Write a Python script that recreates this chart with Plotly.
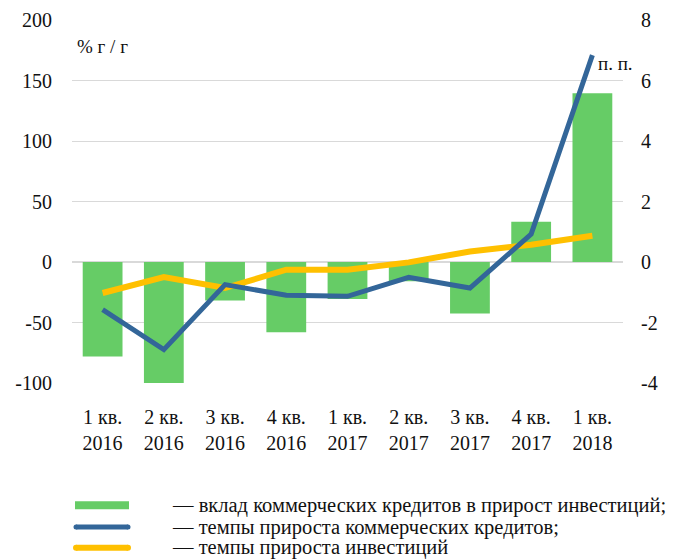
import plotly.graph_objects as go

categories = ["1 кв.<br>2016", "2 кв.<br>2016", "3 кв.<br>2016", "4 кв.<br>2016",
              "1 кв.<br>2017", "2 кв.<br>2017", "3 кв.<br>2017", "4 кв.<br>2017",
              "1 кв.<br>2018"]
contribution_pp = [-3.12, -4.07, -1.27, -2.32, -1.22, -0.64, -1.70, 1.33, 5.58]
credit_growth = [-39.4, -72.4, -18.7, -27.5, -28.4, -12.7, -21.5, 23.0, 171.0]
invest_growth = [-25.6, -12.4, -21.5, -6.4, -6.4, -0.3, 8.7, 14.3, 21.7]

left_ticks = [-100, -50, 0, 50, 100, 150, 200]
left_tick_text = ["-100", "-50", "0", "50", "100", "150", "200"]
right_ticks = [-4, -2, 0, 2, 4, 6, 8]
right_tick_text = ["-4", "-2", "0", "2", "4", "6", "8"]

legend_labels = ["— вклад коммерческих кредитов в прирост инвестиций;",
                 "— темпы прироста коммерческих кредитов;",
                 "— темпы прироста инвестиций"]

GREEN = "#66CC66"
BLUE = "#336699"
YELLOW = "#FFC000"
FONT = "Liberation Serif"

OFF = 8  # page body margin
W, H = 687 - OFF, 559 - OFF
# plot area in screen pixels: x 72..623, y 20..383.5
L = 72 - OFF
R = W - (623 - OFF)
T = 20 - OFF
B = H - (383.5 - OFF)
PW, PH = W - L - R, H - T - B


def px_x(x):
    return (x - OFF - L) / PW


def px_y(y):
    return (H - B - (y - OFF)) / PH


fig = go.Figure()
fig.add_trace(go.Bar(x=categories, y=contribution_pp, marker_color=GREEN,
                     marker_line_width=0, width=0.65, yaxis="y",
                     name=legend_labels[0], showlegend=False))
fig.add_trace(go.Scatter(x=categories, y=invest_growth, mode="lines",
                         line=dict(color=YELLOW, width=6), yaxis="y2",
                         name=legend_labels[2], showlegend=False))
fig.add_trace(go.Scatter(x=categories, y=credit_growth, mode="lines",
                         line=dict(color=BLUE, width=5), yaxis="y2",
                         name=legend_labels[1], showlegend=False))

TICKSIZE = 20
fig.update_layout(
    width=W, height=H,
    margin=dict(l=L, r=R, t=T, b=B, pad=0, autoexpand=False),
    paper_bgcolor="white", plot_bgcolor="white",
    font=dict(family=FONT, size=TICKSIZE, color="#111111"),
    xaxis=dict(range=[-0.5, 8.5], showgrid=False, showline=False, ticks="",
               automargin=False,
               tickfont=dict(size=TICKSIZE), ticklabelstandoff=20),
    yaxis=dict(side="right", range=[-4, 8], tickvals=right_ticks,
               ticktext=right_tick_text, automargin=False,
               showgrid=True, gridcolor="#d9d9d9", gridwidth=1,
               zeroline=True, zerolinecolor="#d9d9d9", zerolinewidth=1.5,
               showline=False, ticks="", ticklabelstandoff=17,
               tickfont=dict(size=TICKSIZE)),
    yaxis2=dict(side="left", overlaying="y", range=[-100, 200],
                tickvals=left_ticks, ticktext=left_tick_text,
                automargin=False, showgrid=False, zeroline=False,
                showline=False, ticks="", ticklabelstandoff=19,
                tickfont=dict(size=TICKSIZE)),
)

# axis unit labels
fig.add_annotation(text="% г / г", xref="paper", yref="paper",
                   x=px_x(75), y=px_y(47), xanchor="left", yanchor="middle",
                   showarrow=False, font=dict(size=19))
fig.add_annotation(text="п. п.", xref="paper", yref="paper",
                   x=px_x(596), y=px_y(64), xanchor="left", yanchor="middle",
                   showarrow=False, font=dict(size=19))

# custom legend
leg_y = [506, 527.7, 548.5]
sw_x0, sw_x1 = 76, 128
fig.add_shape(type="rect", xref="paper", yref="paper",
              x0=px_x(sw_x0 - 1), x1=px_x(sw_x1 + 1),
              y0=px_y(leg_y[0] - 4), y1=px_y(leg_y[0] + 4),
              fillcolor=GREEN, line_width=0)
for yy, col, lw in [(leg_y[1], BLUE, 5), (leg_y[2], YELLOW, 6)]:
    fig.add_shape(type="line", xref="paper", yref="paper",
                  x0=px_x(sw_x0), x1=px_x(sw_x1), y0=px_y(yy), y1=px_y(yy),
                  line=dict(color=col, width=lw))
    for cx in (sw_x0, sw_x1):
        fig.add_shape(type="circle", xref="paper", yref="paper",
                      xsizemode="pixel", ysizemode="pixel",
                      xanchor=px_x(cx), yanchor=px_y(yy),
                      x0=-lw / 2, x1=lw / 2, y0=-lw / 2, y1=lw / 2,
                      fillcolor=col, line_width=0)
for yy, txt in zip(leg_y, legend_labels):
    fig.add_annotation(text=txt, xref="paper", yref="paper",
                       x=px_x(170), y=px_y(yy), xanchor="left",
                       yanchor="middle", showarrow=False,
                       font=dict(size=20.5))

fig.write_html("out.html")
